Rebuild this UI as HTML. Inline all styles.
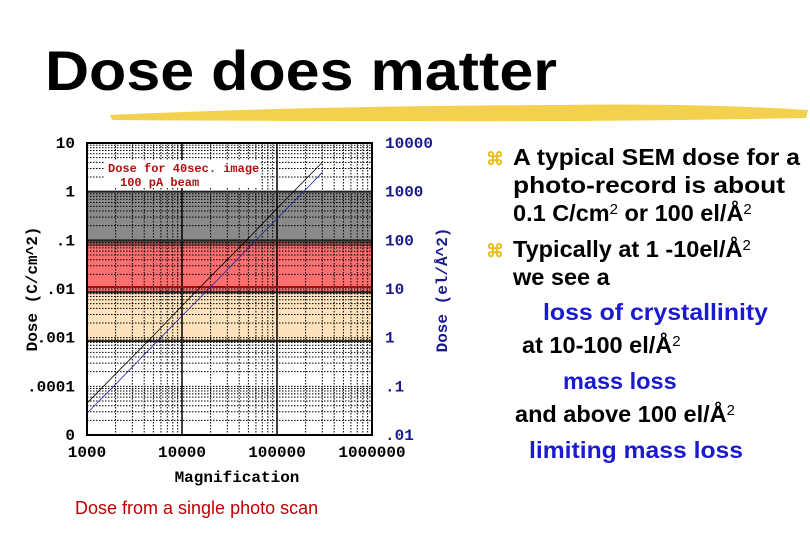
<!DOCTYPE html>
<html><head><meta charset="utf-8"><style>
html,body{margin:0;padding:0;background:#fff;width:810px;height:540px;overflow:hidden}
svg{display:block}
.t{font-family:"Liberation Sans",sans-serif;font-weight:bold;font-size:23.5px}
.ax{font-family:"Liberation Mono",monospace;font-weight:bold;font-size:16px}
</style></head><body>
<svg id="s" width="810" height="540" viewBox="0 0 810 540" xmlns="http://www.w3.org/2000/svg">
<text x="45" y="90" font-family="'Liberation Sans',sans-serif" font-weight="bold" font-size="56" fill="#000" textLength="512" lengthAdjust="spacingAndGlyphs">Dose does matter</text>
<path d="M110,115 Q300,106 560,105 Q700,103 808,110 L806,118 Q600,122 400,121 Q250,121 112,120 Z" fill="#f2c830" opacity="0.85"/>
<g id="chart"></g>
<text x="75" y="514" font-family="'Liberation Sans',sans-serif" font-size="18" fill="#c00000">Dose from a single photo scan</text>
<g class="t">
<text x="486" y="165" fill="#e8c020" font-size="18">⌘</text>
<text x="513" y="165" textLength="287" lengthAdjust="spacingAndGlyphs">A typical SEM dose for a</text>
<text x="513" y="193" textLength="272" lengthAdjust="spacingAndGlyphs">photo-record is  about</text>
<text x="513" y="221">0.1 C/cm<tspan font-size="15" font-weight="normal" dy="-7">2</tspan><tspan dy="7"> or 100 el/Å</tspan><tspan font-size="15" font-weight="normal" dy="-7">2</tspan></text>
<text x="486" y="257" fill="#e8c020" font-size="18">⌘</text>
<text x="513" y="257">Typically  at 1 -10el/Å<tspan font-size="15" font-weight="normal" dy="-7">2</tspan></text>
<text x="513" y="285">we see a</text>
<text x="543" y="320" fill="#1a1ad0" textLength="225" lengthAdjust="spacingAndGlyphs">loss of crystallinity</text>
<text x="522" y="353">at 10-100 el/Å<tspan font-size="15" font-weight="normal" dy="-7">2</tspan></text>
<text x="563" y="389" fill="#1a1ad0">mass loss</text>
<text x="515" y="422">and above 100 el/Å<tspan font-size="15" font-weight="normal" dy="-7">2</tspan></text>
<text x="529" y="458" fill="#1a1ad0" textLength="214" lengthAdjust="spacingAndGlyphs">limiting mass loss</text>
</g>
</svg>
<script>
const magnification=[1000,2000,3000,5000,10000,20000,50000,100000,200000,300000];
const doseBlack=[4.5e-5,1.8e-4,4e-4,1.1e-3,4.5e-3,0.018,0.11,0.45,1.8,4];
const doseBlue=[2.8e-5,1.1e-4,2.5e-4,7e-4,2.8e-3,0.011,0.07,0.28,1.1,2.5];
const xTicks=[1000,10000,100000,1000000];
const xTickLabels=["1000","10000","100000","1000000"];
const yTicks=[1e-5,1e-4,1e-3,1e-2,1e-1,1,10];
const yTickLabels=["0",".0001",".001",".01",".1","1","10"];
const y2TickLabels=[".01",".1","1","10","100","1000","10000"];
const bands=[{lo:0.1,hi:1,c:"#8a8a8a"},{lo:0.075,hi:0.1,c:"#8a4a4a"},{lo:0.0085,hi:0.075,c:"#fa7070"},{lo:0.00085,hi:0.0085,c:"#fde2bc"}];
const L=87,R=372,T=143,B=435;
const X=m=>L+(Math.log10(m)-3)/3*(R-L);
const Y=d=>B-(Math.log10(d)+5)/6*(B-T);
const NS="http://www.w3.org/2000/svg";
const g=document.getElementById('chart');
function mk(tag,at,parent){const e=document.createElementNS(NS,tag);for(const k in at)e.setAttribute(k,at[k]);(parent||g).appendChild(e);return e;}
bands.forEach(b=>{const r=mk('rect',{x:L,y:Y(b.hi),width:R-L,height:Y(b.lo)-Y(b.hi),fill:b.c});

});
for(let e=3;e<6;e++)for(let k=1;k<10;k++){const x=X(k*Math.pow(10,e));const l=mk('line',{x1:x,x2:x,y1:T,y2:B,stroke:'#000','stroke-width':k==1?1.5:1,'stroke-dasharray':k==1?'':'1.5,1.5'});

}
for(let e=-5;e<1;e++)for(let k=1;k<10;k++){const y=Y(k*Math.pow(10,e));const l=mk('line',{x1:L,x2:R,y1:y,y2:y,stroke:'#000','stroke-width':1,'stroke-dasharray':'1.5,1.5'});

}
[1,0.1,0.0085,0.00085].forEach(v=>{const l=mk('line',{x1:L,x2:R,y1:Y(v),y2:Y(v),stroke:'#222','stroke-width':2});

});
{const l=mk('line',{x1:L,x2:R,y1:Y(0.011),y2:Y(0.011),stroke:'#a01010','stroke-width':2});

}
const fr=mk('rect',{x:L,y:T,width:R-L,height:B-T,fill:'none',stroke:'#000','stroke-width':2});


const lb=mk('rect',{x:105,y:160,width:155,height:28,fill:'#fff'});


[[108,172,'Dose for 40sec. image'],[120,186,'100 pA beam']].forEach(a=>{const t=mk('text',{x:a[0],y:a[1],fill:'#b01010','font-family':'Liberation Mono,monospace','font-weight':'bold','font-size':12});t.textContent=a[2];

});
function series(d,col,name){const p=mk('polyline',{points:magnification.map((m,i)=>X(m)+','+Y(d[i])).join(' '),fill:'none',stroke:col,'stroke-width':0.8});

}
series(doseBlack,'#000','dose-line-black');
series(doseBlue,'#2020a0','dose-line-blue');
xTicks.forEach((v,i)=>{const t=mk('text',{x:X(v),y:B+22,'text-anchor':'middle',class:'ax'});t.textContent=xTickLabels[i];

});
yTicks.forEach((v,i)=>{const t=mk('text',{x:L-12,y:Y(v)+5,'text-anchor':'end',class:'ax'});t.textContent=yTickLabels[i];


const t2=mk('text',{x:R+13,y:Y(v)+5,class:'ax',fill:'#1a1a90'});t2.textContent=y2TickLabels[i];

});
const xt=mk('text',{x:237,y:482,'text-anchor':'middle',class:'ax','font-size':15});xt.textContent='Magnification';


const yt=mk('text',{x:0,y:0,'text-anchor':'middle',class:'ax','font-size':15,transform:'translate(37,289) rotate(-90)'});yt.textContent='Dose (C/cm^2)';


const y2=mk('text',{x:0,y:0,'text-anchor':'middle',class:'ax','font-size':15,fill:'#1a1a90',transform:'translate(447,290) rotate(-90)'});y2.textContent='Dose (el/Å^2)';


</script>
</body></html>
